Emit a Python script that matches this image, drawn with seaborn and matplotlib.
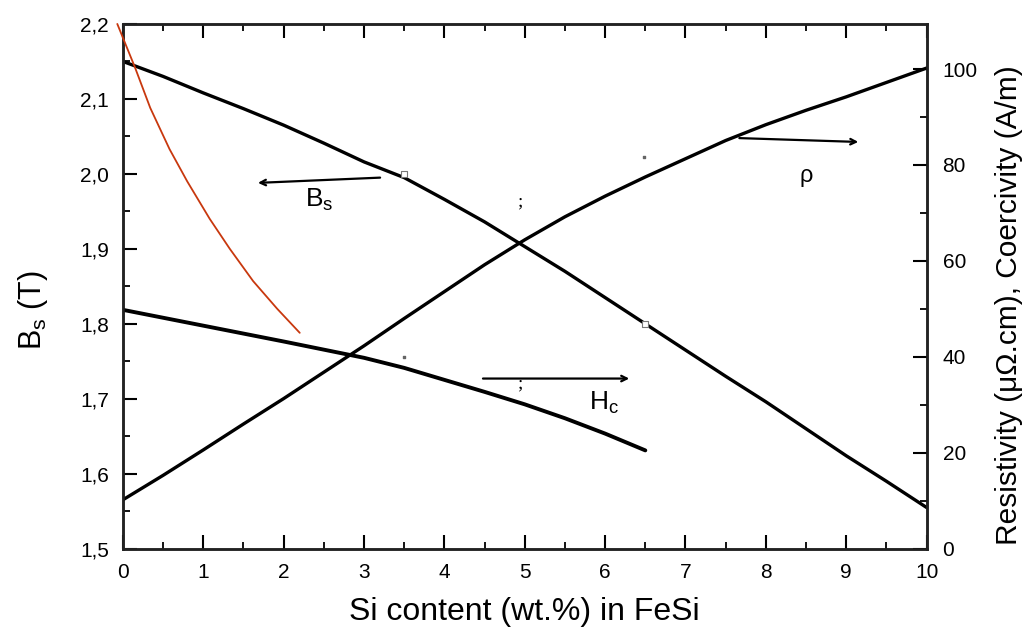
import numpy as np
import pandas as pd
import matplotlib.pyplot as plt
import matplotlib.ticker as mticker
import seaborn as sns

# Saturation induction Bs (T), left axis
bs_si = [0, 0.5, 1, 1.5, 2, 2.5, 3, 3.5, 4, 4.5, 5, 5.5, 6, 6.5, 7, 7.5, 8, 8.5, 9, 9.5, 10]
bs_val = [2.150, 2.130, 2.108, 2.087, 2.065, 2.041, 2.016, 1.995, 1.966, 1.936, 1.903,
          1.870, 1.835, 1.800, 1.765, 1.730, 1.696, 1.660, 1.624, 1.590, 1.555]

# Resistivity rho (µΩ.cm), right axis
rho_si = [0, 0.5, 1, 1.5, 2, 2.5, 3, 3.5, 4, 4.5, 5, 5.5, 6, 6.5, 7, 7.5, 8, 8.5, 9, 9.5, 10]
rho_val = [10.2, 15.3, 20.6, 26.0, 31.3, 36.8, 42.3, 48.0, 53.6, 59.2, 64.4, 69.2, 73.5,
           77.5, 81.3, 85.1, 88.4, 91.4, 94.2, 97.2, 100.2]

# Coercivity Hc (A/m), right axis
hc_si = [0, 1, 2, 3, 3.5, 4, 4.5, 5, 5.5, 6, 6.5]
hc_val = [49.8, 46.5, 43.2, 39.8, 37.7, 35.2, 32.7, 30.1, 27.2, 24.0, 20.5]

# hand-drawn red curve, left axis
red_si = [-0.07, 0.15, 0.34, 0.58, 0.80, 1.08, 1.33, 1.62, 1.92, 2.20]
red_val = [2.200, 2.142, 2.088, 2.033, 1.990, 1.940, 1.900, 1.857, 1.820, 1.788]

# small data markers
sq_si = [3.5, 6.5]
sq_val = [2.0, 1.80]
dot_si = [3.5, 6.48]
dot_val = [1.756, 2.023]

sns.set_style("ticks")
plt.rcParams['font.family'] = ['Liberation Sans', 'DejaVu Sans']
plt.rcParams['mathtext.default'] = 'regular'
plt.rcParams['text.color'] = 'black'
plt.rcParams['axes.labelcolor'] = 'black'
plt.rcParams['xtick.color'] = 'black'
plt.rcParams['ytick.color'] = 'black'

fig = plt.figure(figsize=(10.33, 6.3), dpi=100)
ax = fig.add_axes([0.119, 0.129, 0.778, 0.833])
ax2 = ax.twinx()

bs = pd.DataFrame({"si": bs_si, "v": bs_val})
rho = pd.DataFrame({"si": rho_si, "v": rho_val})
hc = pd.DataFrame({"si": hc_si, "v": hc_val})

sns.lineplot(data=bs, x="si", y="v", ax=ax, color="black", lw=2.4)
sns.lineplot(data=rho, x="si", y="v", ax=ax2, color="black", lw=2.4)
sns.lineplot(data=hc, x="si", y="v", ax=ax2, color="black", lw=2.8)
ax2.plot(red_si, red_val, color="#c8380e", lw=1.3, clip_on=False,
         transform=ax.transData, zorder=5)

ax.scatter(sq_si, sq_val, marker="s", s=16, facecolors="white", edgecolors="#777777",
           linewidths=0.8, zorder=4)
ax.scatter(dot_si, dot_val, marker="s", s=3, color="#666666", zorder=4)

ax.set_xlim(0, 10)
ax.set_ylim(1.5, 2.2)
ax2.set_ylim(0, 109.4)

# arrows and curve labels
arr = dict(arrowstyle="->", color="black", lw=1.6, shrinkA=0, shrinkB=0)
ax.annotate("", xy=(1.68, 1.988), xytext=(3.2, 1.995), arrowprops=arr)
ax.text(2.26, 1.965, r"B$_s$", fontsize=19, ha="left", va="center")
ax2.annotate("", xy=(9.15, 84.8), xytext=(7.67, 85.6), arrowprops=arr)
ax2.text(8.5, 77.7, "ρ", fontsize=17, ha="center", va="center")
ax.annotate("", xy=(6.3, 1.727), xytext=(4.48, 1.727), arrowprops=arr)
ax.text(5.8, 1.695, r"H$_c$", fontsize=19, ha="left", va="center")
ax.text(4.94, 1.962, ";", fontsize=14, family="Liberation Serif", ha="center", va="center")
ax.text(4.94, 1.72, ";", fontsize=14, family="Liberation Serif", ha="center", va="center")

# ticks
ax.xaxis.set_major_locator(mticker.MultipleLocator(1))
ax.xaxis.set_minor_locator(mticker.MultipleLocator(0.5))
ax.yaxis.set_major_locator(mticker.MultipleLocator(0.1))
ax.yaxis.set_minor_locator(mticker.MultipleLocator(0.05))
ax.yaxis.set_major_formatter(mticker.FuncFormatter(lambda v, p: f"{v:.1f}".replace(".", ",")))
ax2.yaxis.set_major_locator(mticker.FixedLocator([0, 20, 40, 60, 80, 100]))
ax2.yaxis.set_minor_locator(mticker.FixedLocator([10, 30, 50, 70, 90]))

ax.tick_params(axis="both", which="major", direction="in", length=10, width=1.5,
               labelsize=15, top=True, right=False, pad=10)
ax.tick_params(axis="both", which="minor", direction="in", length=5, width=1.3,
               top=True, right=False)
ax2.tick_params(axis="y", which="major", direction="in", length=10, width=1.5,
                labelsize=15, pad=11.5)
ax2.tick_params(axis="y", which="minor", direction="in", length=5, width=1.3)

for a in (ax, ax2):
    for s in a.spines.values():
        s.set_linewidth(1.8)
        s.set_color("#222222")
        s.set_visible(True)

ax.set_xlabel("Si content (wt.%) in FeSi", fontsize=23, labelpad=11)
ax.set_ylabel(r"B$_s$ (T)", fontsize=22)
ax2.set_ylabel("Resistivity (μΩ.cm), Coercivity (A/m)", fontsize=21.5)
ax.yaxis.set_label_coords(-0.091, 0.455)
ax2.yaxis.set_label_coords(1.085, 0.465)

fig.savefig("out.png", dpi=100)
